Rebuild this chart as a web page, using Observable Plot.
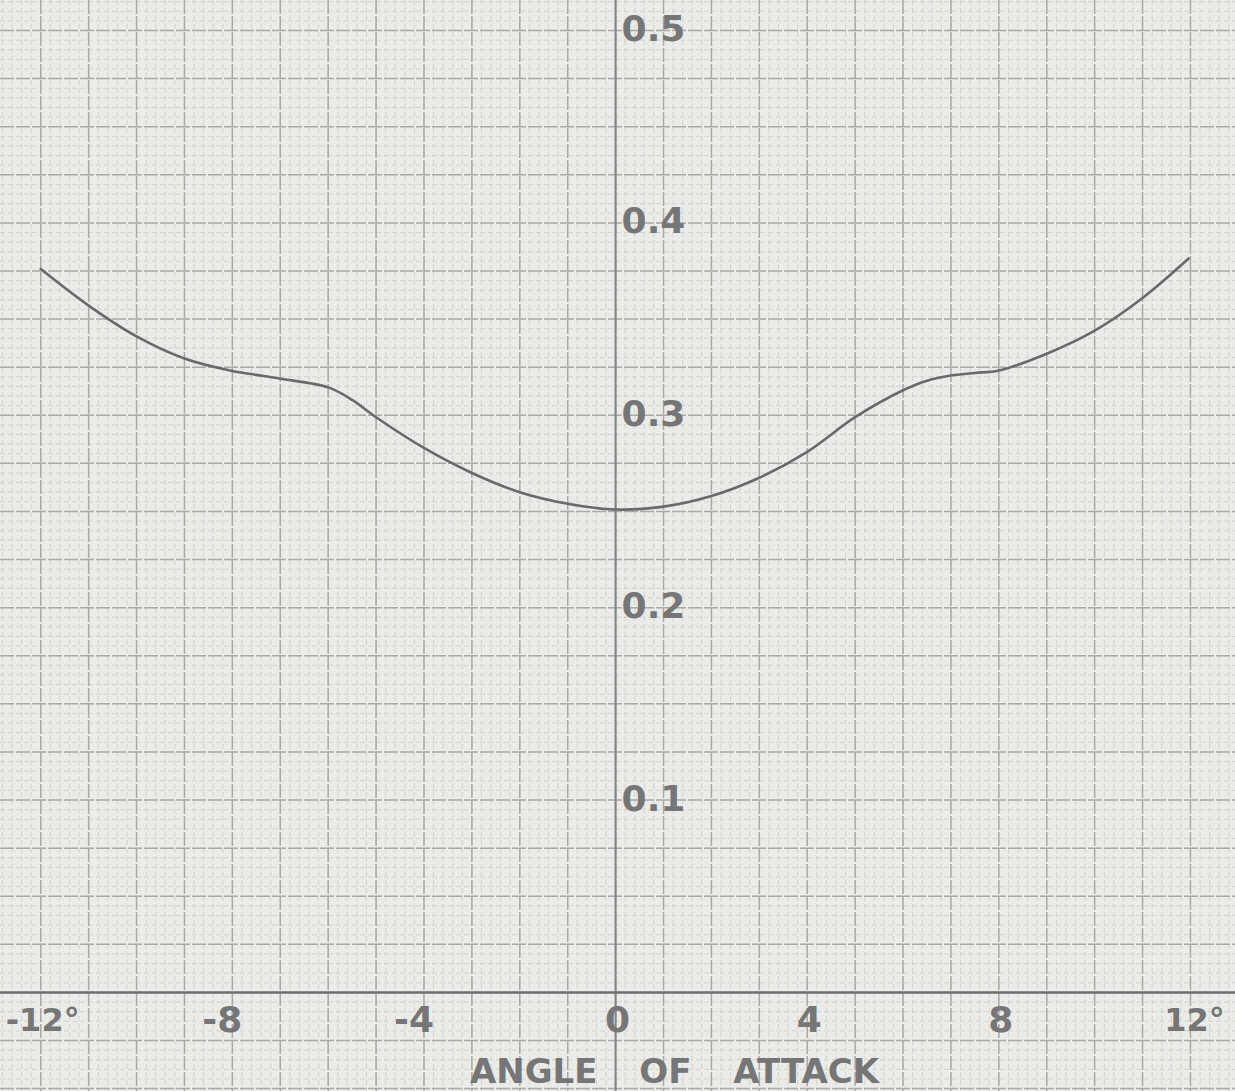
<!DOCTYPE html>
<html>
<head>
<meta charset="utf-8">
<script src="https://cdn.jsdelivr.net/npm/d3@7"></script>
<script src="https://cdn.jsdelivr.net/npm/@observablehq/plot@0.6"></script>
<style>
  html, body { margin: 0; padding: 0; background: #ebebe9; overflow: hidden; }
  #chart svg { display: block; }
  .xlabel text { word-spacing: 30px; }
</style>
</head>
<body>
<div id="chart"></div>
<script>
// Angle of attack (degrees) and curve values
const angles = [-12, -11, -10, -9, -8, -7.5, -7, -6, -5.5, -5, -4, -3, -2, -1, 0, 1, 2, 3, 4, 5, 6, 6.5, 7, 7.5, 8, 9, 10, 11, 11.96];
const values = [0.376, 0.357, 0.341, 0.3295, 0.323, 0.321, 0.319, 0.3145, 0.308, 0.299, 0.283, 0.270, 0.260, 0.254, 0.251, 0.2525, 0.258, 0.2675, 0.281, 0.299, 0.313, 0.318, 0.3207, 0.322, 0.3233, 0.332, 0.344, 0.361, 0.3815];

const xTicks = [-12, -8, -4, 0, 4, 8, 12];
const xTickLabels = ["-12°", "-8", "-4", "0", "4", "8", "12°"];
const yTicks = [0.1, 0.2, 0.3, 0.4, 0.5];
const yTickLabels = ["0.1", "0.2", "0.3", "0.4", "0.5"];
const xLabel = "ANGLE OF ATTACK";

const curve = angles.map((a, i) => ({angle: a, value: values[i]}));
const xTickData = xTicks.map((t, i) => ({x: t, label: xTickLabels[i]}));
const yTickData = yTicks.map((t, i) => ({y: t, label: yTickLabels[i]}));

const xDomain = [-12.84, 12.94];
const yDomain = [-0.0515, 0.5156];
const minorX = d3.range(-13, 13.001, 0.2).map(v => +v.toFixed(2)).filter(v => v >= xDomain[0] && v <= xDomain[1]);
const majorX = d3.range(-12, 12.001, 1);
const minorY = d3.range(-0.05, 0.52, 0.005).map(v => +v.toFixed(4)).filter(v => v >= yDomain[0] && v <= yDomain[1]);
const majorY = d3.range(-0.05, 0.52, 0.025).map(v => +v.toFixed(4)).filter(v => v >= yDomain[0] && v <= yDomain[1]);

const font = "'DejaVu Sans', sans-serif";
const ink = "#767676";
const tickStyle = {x: "x", y: 0, text: "label", dy: 28, fontSize: 36, fontWeight: "bold", fill: ink, fontFamily: font};

const chart = Plot.plot({
  width: 1235,
  height: 1091,
  margin: 0,
  style: {background: "#ebebe9", fontFamily: font},
  x: {domain: xDomain, axis: null},
  y: {domain: yDomain, axis: null},
  marks: [
    Plot.ruleX(minorX, {stroke: "#d3d3d1", strokeWidth: 1, strokeDasharray: "5,3"}),
    Plot.ruleY(minorY, {stroke: "#d3d3d1", strokeWidth: 1, strokeDasharray: "5,3"}),
    Plot.ruleX(majorX, {stroke: "#a9a9a7", strokeWidth: 1.5, strokeDasharray: "14,2"}),
    Plot.ruleY(majorY, {stroke: "#a9a9a7", strokeWidth: 1.5, strokeDasharray: "14,2"}),
    Plot.ruleX([0], {stroke: "#838383", strokeWidth: 2}),
    Plot.ruleY([0], {stroke: "#707070", strokeWidth: 2.5}),
    Plot.line(curve, {x: "angle", y: "value", stroke: "#6a6a6a", strokeWidth: 2.6, curve: "catmull-rom"}),
    Plot.text(yTickData, {x: 0, y: "y", text: "label", textAnchor: "start", dx: 6, dy: -1,
      fontSize: 36, fontWeight: "bold", fill: ink, fontFamily: font}),
    Plot.text(xTickData, {...tickStyle, filter: d => d.x === -12, dx: 2, fontSize: 32}),
    Plot.text(xTickData, {...tickStyle, filter: d => d.x < 0 && d.x > -12, dx: -10}),
    Plot.text(xTickData, {...tickStyle, filter: d => d.x >= 0 && d.x < 12, dx: 2}),
    Plot.text(xTickData, {...tickStyle, filter: d => d.x === 12, dx: 4, fontSize: 32}),
    Plot.text([xLabel], {x: 1.23, y: 0, dy: 80, lineAnchor: "middle", className: "xlabel",
      fontSize: 34, fontWeight: "bold", fill: ink, fontFamily: font})
  ]
});
document.getElementById("chart").appendChild(chart);
</script>
</body>
</html>
